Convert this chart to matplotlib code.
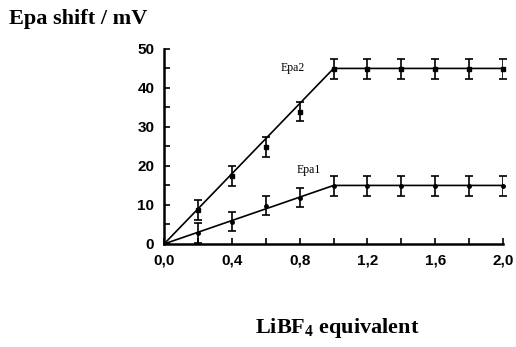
import numpy as np
import matplotlib
matplotlib.use("Agg")
import matplotlib.pyplot as plt

plt.rcParams["mathtext.fontset"] = "custom"
plt.rcParams["mathtext.bf"] = "Liberation Serif:bold"
plt.rcParams["mathtext.rm"] = "Liberation Serif"

# measured points
x_pts = [0.0, 0.2, 0.4, 0.6, 0.8, 1.0, 1.2, 1.4, 1.6, 1.8, 2.0]
epa2 = [0.0, 8.7, 17.4, 24.8, 33.9, 44.9, 44.8, 44.8, 44.8, 44.8, 44.8]
epa1 = [0.0, 2.8, 5.7, 9.8, 11.9, 14.9, 14.9, 14.9, 14.9, 14.9, 14.9]
err = [0.0, 2.5, 2.5, 2.5, 2.5, 2.5, 2.5, 2.5, 2.5, 2.5, 2.5]

# fitted lines (break at 1 equivalent)
fit_x = [0.0, 1.0, 2.0]
fit_epa2 = [0.0, 45.0, 45.0]
fit_epa1 = [0.0, 15.0, 15.0]

fig = plt.figure(figsize=(5.16, 3.47), dpi=100)
ax = fig.add_axes([0.318, 0.297, 0.657, 0.562])

ax.plot(fit_x, fit_epa2, color="black", lw=1.2)
ax.plot(fit_x, fit_epa1, color="black", lw=1.2)
ax.errorbar(x_pts[1:], epa2[1:], yerr=err[1:], fmt="s", ms=3, color="black",
            ecolor="black", elinewidth=1.2, capsize=3, capthick=1.2)
ax.errorbar(x_pts[1:], epa1[1:], yerr=err[1:], fmt="o", ms=2.5, color="black",
            ecolor="black", elinewidth=1.2, capsize=3, capthick=1.2)

ax.text(0.685, 45.2, "Epa2", family="Liberation Serif", fontsize=8.5, va="center")
ax.text(0.78, 19.0, "Epa1", family="Liberation Serif", fontsize=8.5, va="center")

ax.set_xlim(0, 2.0)
ax.set_ylim(0, 50)
ax.set_xticks(np.arange(0, 2.01, 0.2))
ax.set_xticklabels(["0,0", "", "0,4", "", "0,8", "", "1,2", "", "1,6", "", "2,0"])
ax.set_yticks(np.arange(0, 51, 5))
ax.set_yticklabels(["0", "", "10", "", "20", "", "30", "", "40", "", "50"])
ax.tick_params(direction="in", length=4, width=1.2, labelsize=11, pad=7)
for lab in ax.get_xticklabels() + ax.get_yticklabels():
    lab.set_family("Liberation Sans")
    lab.set_fontweight("bold")

for s in ["top", "right"]:
    ax.spines[s].set_visible(False)
for s in ["left", "bottom"]:
    ax.spines[s].set_linewidth(1.8)
for art in ax.lines:
    art.set_clip_on(False)

fig.text(0.018, 0.945, "Epa shift / mV", family="Liberation Serif",
         fontweight="bold", fontsize=16, va="center", ha="left")
fig.text(0.653, 0.055, "LiBF$_\\mathbf{4}$ equivalent", family="Liberation Serif",
         fontweight="bold", fontsize=16, va="center", ha="center")

fig.savefig("out.png", dpi=100)
